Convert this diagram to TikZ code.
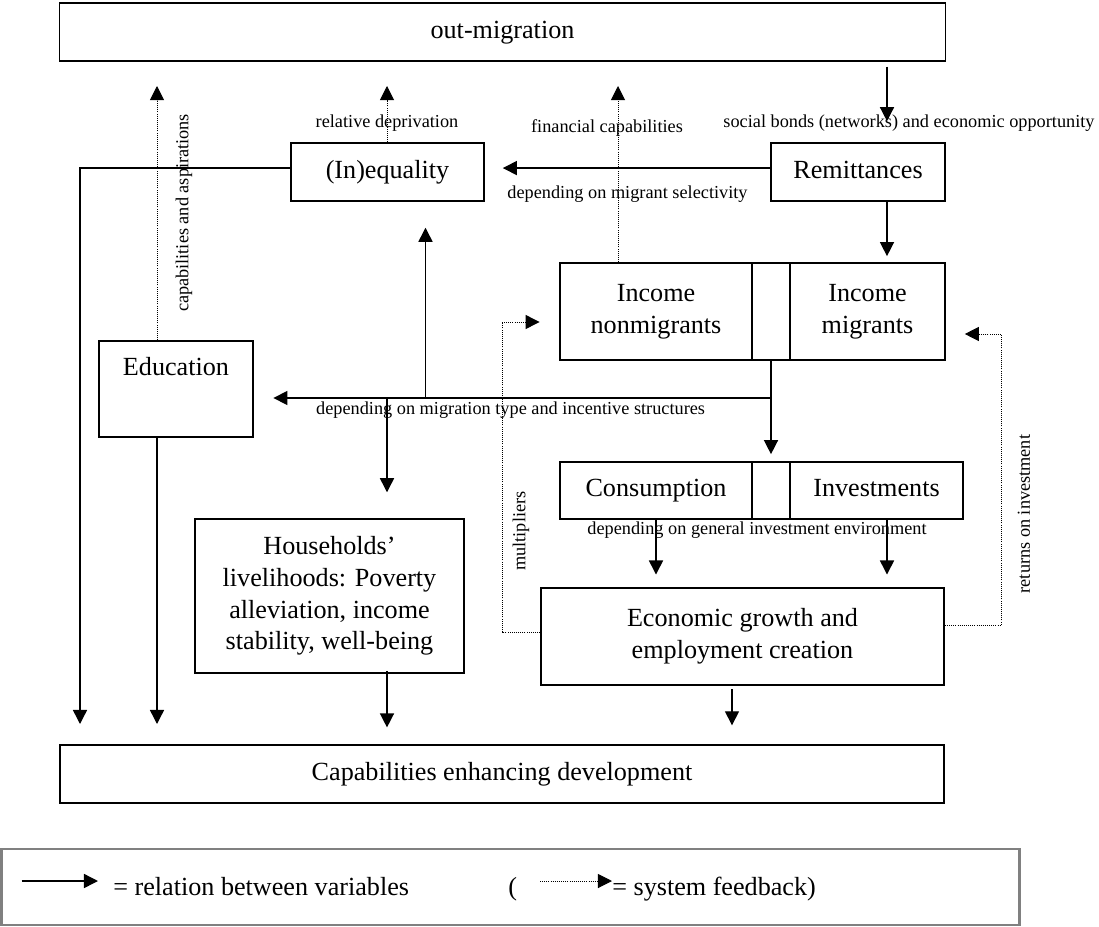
\documentclass[tikz,border=0pt]{standalone}
\usepackage{fontspec}
\setmainfont{Liberation Serif}
\usetikzlibrary{arrows.meta}
\newcommand\mainfnt{\fontsize{18.6}{22.5}\selectfont}
\newcommand\smallfnt{\fontsize{13}{15}\selectfont}
\tikzset{
  box/.style={draw, line width=1pt, inner sep=0pt, align=center, font=\mainfnt},
  onerow/.style={text height=13pt, text depth=4pt},
  rel/.style={line width=1pt, -{Triangle[length=10pt,width=10pt]}},
  fb/.style={line width=0.7pt, dash pattern=on 0.7pt off 0.8pt, -{Triangle[length=10pt,width=10pt]}},
  lbl/.style={font=\smallfnt, inner sep=0pt},
}
\begin{document}
\begin{tikzpicture}[x=0.025cm,y=-0.025cm]
    \useasboundingbox (0,0) rectangle (1099,927);
    % boxes
    \node[box, onerow, minimum width=22.13cm, minimum height=1.45cm] (outmig) at (502.5,32) {out-migration};
    \node[box, onerow, minimum width=4.83cm, minimum height=1.45cm] (ineq) at (387.5,172) {(In)equality};
    \node[box, onerow, minimum width=4.35cm, minimum height=1.45cm] (remit) at (858,172) {Remittances};
    \node[box, minimum width=4.8cm, minimum height=2.43cm] (nonmig) at (656,311.5) {Income\\nonmigrants};
    \node[box, minimum width=0.95cm, minimum height=2.43cm] (incgap) at (771,311.5) {};
    \node[box, minimum width=3.88cm, minimum height=2.43cm] (mig) at (867.5,311.5) {Income\\migrants};
    \node[box, minimum width=3.85cm, minimum height=2.4cm] (educ) at (176,389) {};
    \node[font=\mainfnt] (eductxt) at (176,367) {Education};
    \node[box, onerow, minimum width=4.8cm, minimum height=1.43cm] (cons) at (656,490.5) {Consumption};
    \node[box, minimum width=0.95cm, minimum height=1.43cm] (consgap) at (771,490.5) {};
    \node[box, onerow, minimum width=4.33cm, minimum height=1.43cm] (inv) at (876.5,490.5) {Investments};
    \node[box, minimum width=6.73cm, minimum height=3.85cm] (house) at (329.5,596) {Households’\\livelihoods: Poverty\\alleviation, income\\stability, well-being};
    \node[box, minimum width=10.08cm, minimum height=2.43cm] (econ) at (742.5,636.5) {Economic growth and\\employment creation};
    \node[box, onerow, minimum width=22.1cm, minimum height=1.45cm] (capab) at (502,774) {Capabilities enhancing development};
    % labels
    \node[lbl, rotate=90] (lcap) at (184,213) {capabilities and aspirations};
    \node[lbl] (lrel) at (387,123) {relative deprivation};
    \node[lbl] (lfin) at (607,128) {financial capabilities};
    \node[lbl] (lsoc) at (909,123) {social bonds (networks) and economic opportunity};
    \node[lbl] (lsel) at (627.5,194) {depending on migrant selectivity};
    \node[lbl] (ltype) at (510.6,410) {depending on migration type and incentive structures};
    \node[lbl] (lenv) at (757,530) {depending on general investment environment};
    \node[lbl, rotate=90] (lmult) at (521,531) {multipliers};
    \node[lbl, rotate=90] (lret) at (1024,514) {returns on investment};
    % relations
    \coordinate (remcol) at (887,0);
    \draw[rel] ([yshift=-3.5pt]outmig.south -| remcol) -- ([yshift=15pt]remit.north -| remcol);
    \draw[rel] (remit.south -| remcol) -- ([yshift=4.3pt]mig.north -| remcol);
    \draw[rel] ([yshift=2.8pt]remit.west) -- ([xshift=12.8pt,yshift=2.8pt]ineq.east);
    \coordinate (lefttip) at (80,724);
    \draw[rel] ([yshift=2.8pt]ineq.west) -| (lefttip);
    \coordinate (edutip) at (157,724);
    \draw[rel] (educ.south -| edutip) -- (edutip);
    \coordinate (split) at (771,398);
    \coordinate (ineqcol) at (425.5,398);
    \coordinate (housecol) at (387,398);
    \draw[rel] (incgap.south) -- ([yshift=5pt]consgap.north);
    \draw[rel] (split) -- ([xshift=14pt]educ.east |- split);
    \draw[rel] (ineqcol) -- ([yshift=-18.5pt]ineq.south -| ineqcol);
    \draw[rel] (housecol) -- ([yshift=18.5pt]house.north -| housecol);
    \coordinate (invcol) at (887,519);
    \draw[rel] (cons.south) -- ([yshift=9pt]econ.north -| cons.south);
    \draw[rel] (inv.south -| invcol) -- ([yshift=9pt]econ.north -| invcol);
    \coordinate (econcol) at (732,0);
    \draw[rel] ([yshift=-2.5pt]econ.south -| econcol) -- ([yshift=13.5pt]capab.north -| econcol);
    \draw[rel] ([yshift=2pt]house.south -| housecol) -- ([yshift=12pt]capab.north -| housecol);
    % feedback
    \coordinate (edutop) at (157,86);
    \draw[fb] (educ.north -| edutop) -- (edutop);
    \coordinate (reltop) at (387,86);
    \draw[fb] (ineq.north -| reltop) -- (reltop);
    \coordinate (fintop) at (618,86);
    \draw[fb] (nonmig.north -| fintop) -- (fintop);
    \coordinate (multbot) at (502,632);
    \coordinate (multtop) at (502,322);
    \draw[fb] (econ.west |- multbot) -- (multbot) -- (multtop) -- ([xshift=-14pt]nonmig.west |- multtop);
    \coordinate (retbot) at (1001.5,625);
    \coordinate (rettop) at (1001.5,334);
    \draw[fb] (econ.east |- retbot) -- (retbot) -- (rettop) -- ([xshift=13.5pt]mig.east |- rettop);
    % legend
    \node[draw=gray, line width=2.1pt, minimum width=25.45cm, minimum height=1.9cm, inner sep=0pt] (legend) at (510.5,887) {};
    \coordinate (lgrelA) at (21.5,881);
    \coordinate (lgrelB) at (98,881);
    \draw[rel] (lgrelA) -- (lgrelB);
    \node[font=\mainfnt, anchor=base west, inner sep=0pt] (lgrel) at (113,895) {= relation between variables};
    \node[font=\mainfnt, anchor=base west, inner sep=0pt] (lgparen) at (508,895) {(};
    \coordinate (lgfbA) at (540,881);
    \coordinate (lgfbB) at (612,881);
    \draw[fb] (lgfbA) -- (lgfbB);
    \node[font=\mainfnt, anchor=base west, inner sep=0pt] (lgfb) at (612,895) {= system feedback)};
\end{tikzpicture}
\end{document}
